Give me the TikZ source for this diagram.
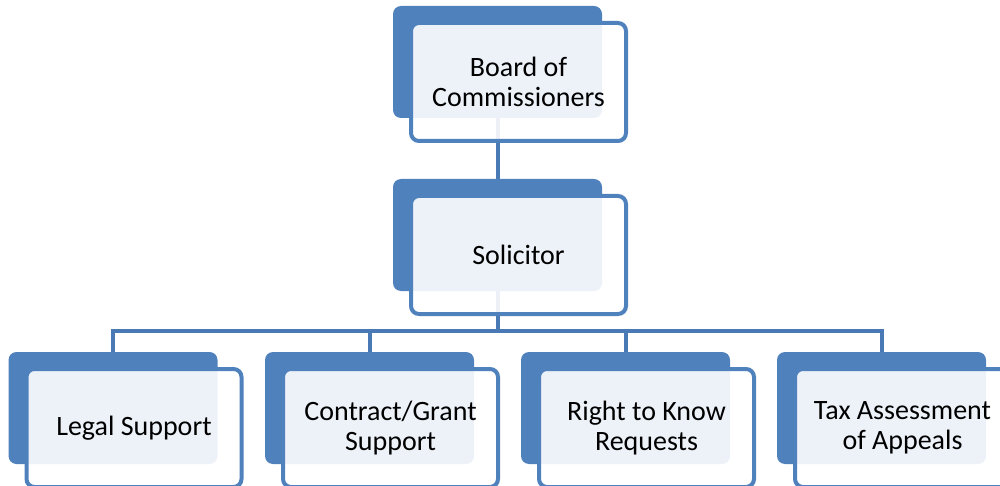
\documentclass[tikz,border=0pt]{standalone}
\usepackage{fontspec}
\setmainfont{Carlito}
\usetikzlibrary{positioning,backgrounds}
\definecolor{accent}{HTML}{4F81BD}
\definecolor{linkc}{HTML}{4A7AB5}

\begin{document}
\begin{tikzpicture}[x=0.5pt, y=-0.5pt,
  back/.style={fill=accent, rounded corners=4pt, minimum width=104.5pt,
               minimum height=56pt, inner sep=0pt},
  front/.style={draw=accent, line width=2pt, fill=white, fill opacity=0.9,
                text opacity=1, rounded corners=4pt, minimum width=107.5pt,
                minimum height=59pt, inner sep=0pt, align=center,
                font=\fontsize{14}{15}\selectfont},
  link/.style={draw=linkc, line width=2pt}]
\clip (0,0) rectangle (1000,486);
\foreach \n/\x/\y/\t in {bd/497.5/62/{Board of\\Commissioners}, so/497.5/235/Solicitor,
    c0/113/408/Legal Support, c1/369.5/408/{Contract/Grant\\Support},
    c2/625.5/408/{Right to Know\\Requests}, c3/881.5/408/{Tax Assessment\\of Appeals}} {
  \node[back] (\n b) at (\x,\y) {};
  \node[front] (\n f) at (\x+21,\y+20) {\t};
}
% connectors behind the cards
\begin{scope}[on background layer]
  \draw[link] (bdb.south) -- (sob.north);
  \foreach \i in {0,...,3}
    \draw[link] (sob.south) -- ++(0,40) -| (c\i b.north);
\end{scope}
\end{tikzpicture}
\end{document}
